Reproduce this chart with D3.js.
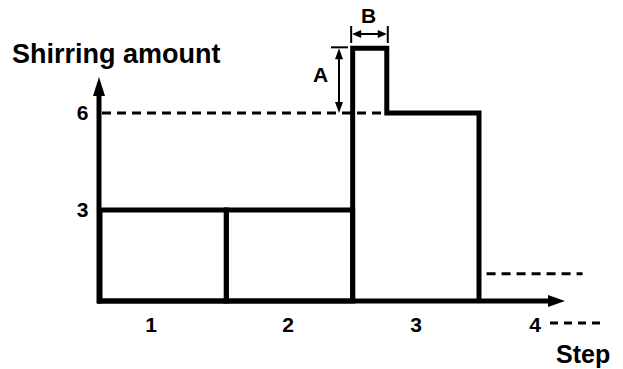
<!DOCTYPE html>
<html>
<head>
<meta charset="utf-8">
<script src="https://cdn.jsdelivr.net/npm/d3@7"></script>
<style>
  body { margin: 0; background: #fff; }
  text { font-family: "Liberation Sans", Arial, sans-serif; font-weight: bold; fill: #000; }
</style>
</head>
<body>
<svg id="chart" width="623" height="369"></svg>
<script>
// step labels and the shirring amount held during each step
const stepLabels = ["1", "2", "3", "4"];
const stepLevels = [3, 3, 6];
const yTicks = [3, 6];
// peak at the start of step 3 (A = height above 6, B = duration)
const peakLevel = 8;
const peakWidth = 0.27;
// dashed continuation for step 4
const step4Level = 0.9;

const svg = d3.select("#chart");
const x = d3.scaleLinear().domain([0, 3]).range([100, 479]);
const y = d3.scaleLinear().domain([0, 3, 6]).range([301, 210, 113]);

const label = (txt, px, py, size, anchor) =>
  svg.append("text")
    .attr("x", px)
    .attr("y", py)
    .attr("text-anchor", anchor || "middle")
    .style("font-size", size + "px")
    .text(txt);

const dashed = (x1, x2, yy) =>
  svg.append("line")
    .attr("x1", x1).attr("x2", x2)
    .attr("y1", yy).attr("y2", yy)
    .attr("stroke", "#000").attr("stroke-width", 3)
    .attr("stroke-dasharray", "9,6");

// dashed reference line at level 6, and the step-4 continuation
dashed(x(0) + 2, x(2 + peakWidth), y(6));
dashed(x(3.06), x(3.82), y(step4Level));

// steps 1 and 2 as boxes
svg.selectAll("rect.step")
  .data(stepLevels.slice(0, 2))
  .enter()
  .append("rect")
  .attr("class", "step")
  .attr("x", (d, i) => x(i))
  .attr("width", x(1) - x(0))
  .attr("y", (d) => y(d))
  .attr("height", (d) => y(0) - y(d))
  .attr("fill", "none")
  .attr("stroke", "#000")
  .attr("stroke-width", 5);

// step 3 with its peak
const step3 = [
  [2, 0], [2, peakLevel], [2 + peakWidth, peakLevel],
  [2 + peakWidth, stepLevels[2]], [3, stepLevels[2]], [3, 0]
];
svg.append("path")
  .attr("d", d3.line().x((d) => x(d[0])).y((d) => y(d[1]))(step3))
  .attr("fill", "none")
  .attr("stroke", "#000")
  .attr("stroke-width", 5)
  .attr("stroke-linejoin", "miter");

// axes
svg.append("line")
  .attr("x1", x(0) - 2.5).attr("x2", 552)
  .attr("y1", y(0)).attr("y2", y(0))
  .attr("stroke", "#000").attr("stroke-width", 5);
svg.append("path")
  .attr("d", `M548,${y(0) - 6}L565,${y(0)}L548,${y(0) + 6}Z`)
  .attr("fill", "#000");
svg.append("line")
  .attr("x1", x(0) - 1).attr("x2", x(0) - 1)
  .attr("y1", y(0) + 2.5).attr("y2", 92)
  .attr("stroke", "#000").attr("stroke-width", 5);
svg.append("path")
  .attr("d", `M${x(0) - 7},96L${x(0) - 1},77L${x(0) + 5},96Z`)
  .attr("fill", "#000");

// y tick labels
yTicks.forEach((t) => label(t, 82.5, y(t) + 7, 21));

// step labels
[151, 288, 416, 535].forEach((px, i) => label(stepLabels[i], px, 332, 21));
svg.append("line")
  .attr("x1", 550).attr("x2", 603)
  .attr("y1", 323).attr("y2", 323)
  .attr("stroke", "#000").attr("stroke-width", 3)
  .attr("stroke-dasharray", "8,6");

// axis titles
label("Shirring amount", 12, 63, 27, "start");
label("Step", 556, 363, 25, "start");

// annotation A: height of the peak above level 6
const ax = 339;
svg.append("line")
  .attr("x1", 331).attr("x2", 348)
  .attr("y1", y(peakLevel) - 1).attr("y2", y(peakLevel) - 1)
  .attr("stroke", "#000").attr("stroke-width", 2);
svg.append("line")
  .attr("x1", ax).attr("x2", ax)
  .attr("y1", y(peakLevel) + 4).attr("y2", y(6) - 4)
  .attr("stroke", "#000").attr("stroke-width", 2);
svg.append("path")
  .attr("d", `M${ax - 4},${y(peakLevel) + 11}L${ax},${y(peakLevel)}L${ax + 4},${y(peakLevel) + 11}Z` +
             `M${ax - 4},${y(6) - 11}L${ax},${y(6)}L${ax + 4},${y(6) - 11}Z`)
  .attr("fill", "#000");
label("A", 320.5, 82, 21);

// annotation B: duration of the peak
const by = 34, bx0 = x(2) - 1.5, bx1 = x(2 + peakWidth) + 1;
svg.append("line")
  .attr("x1", bx0).attr("x2", bx0).attr("y1", 26).attr("y2", 43)
  .attr("stroke", "#000").attr("stroke-width", 2);
svg.append("line")
  .attr("x1", bx1).attr("x2", bx1).attr("y1", 26).attr("y2", 43)
  .attr("stroke", "#000").attr("stroke-width", 2);
svg.append("line")
  .attr("x1", bx0 + 3).attr("x2", bx1 - 3).attr("y1", by).attr("y2", by)
  .attr("stroke", "#000").attr("stroke-width", 2);
svg.append("path")
  .attr("d", `M${bx0 + 10},${by - 4}L${bx0 + 1},${by}L${bx0 + 10},${by + 4}Z` +
             `M${bx1 - 10},${by - 4}L${bx1 - 1},${by}L${bx1 - 10},${by + 4}Z`)
  .attr("fill", "#000");
label("B", 368.5, 23, 21);
</script>
</body>
</html>
